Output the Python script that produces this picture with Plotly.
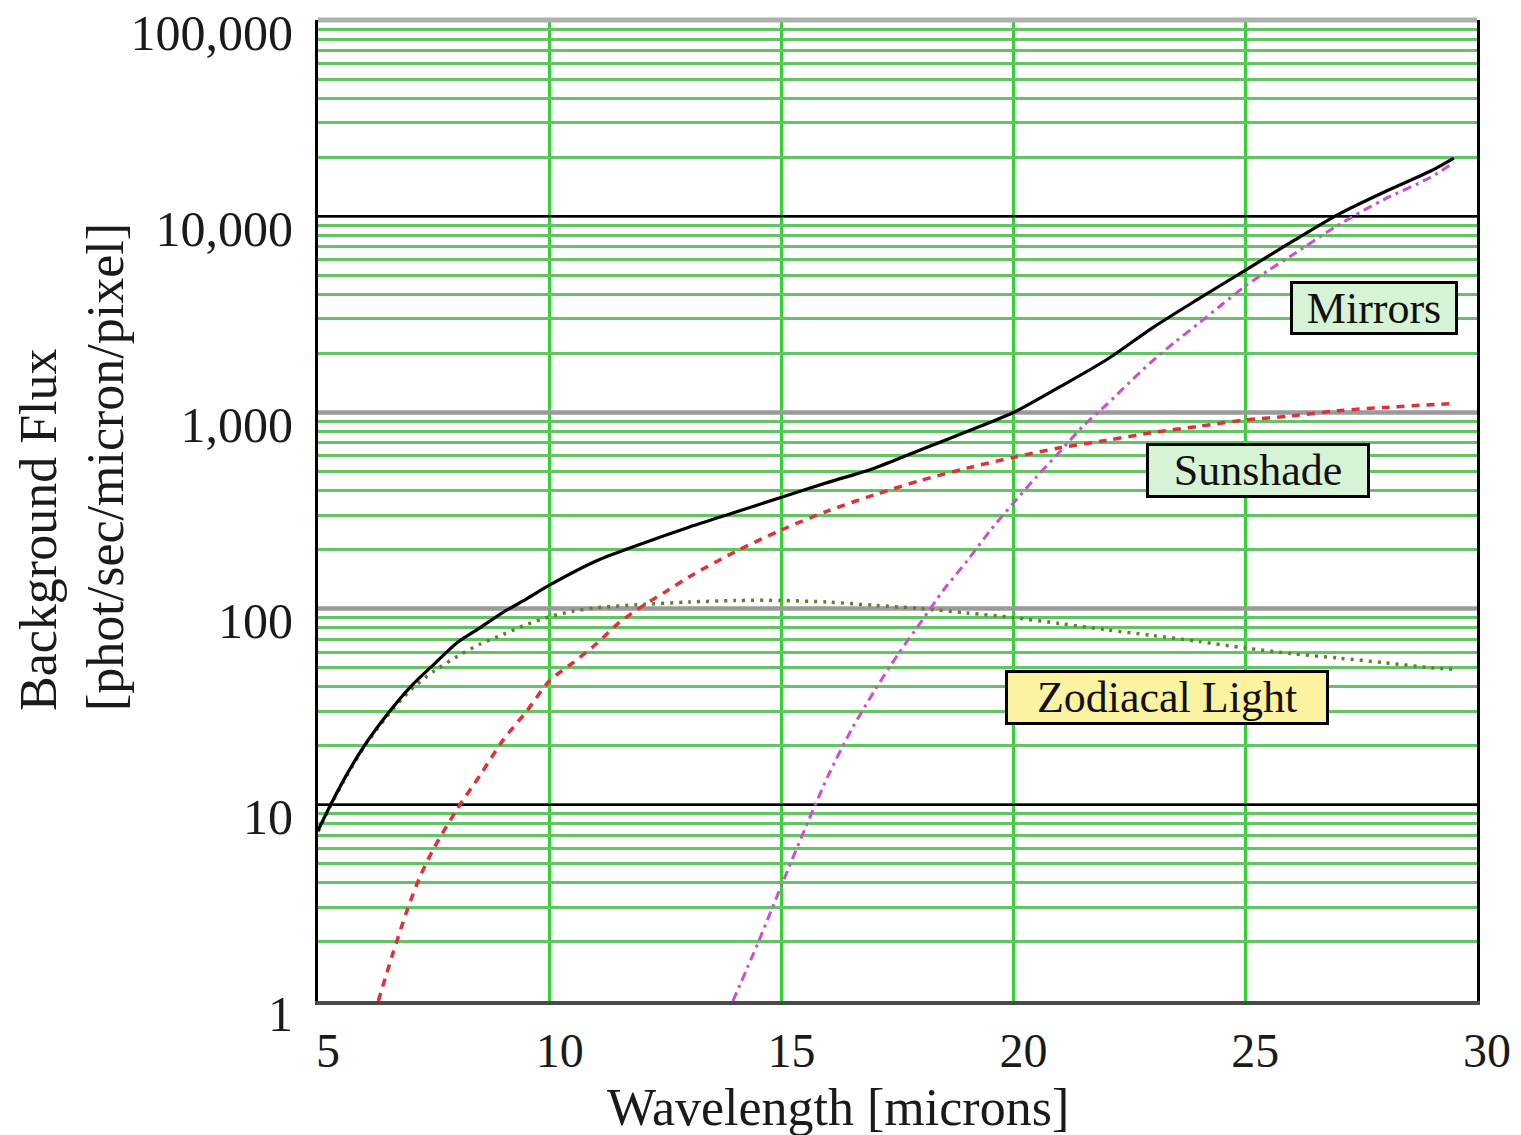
import plotly.graph_objects as go

# ---------------- data ----------------
total_x = [5, 5.3, 5.6, 6, 6.5, 7, 7.5, 8, 8.5, 9, 9.5, 10, 11, 12, 13, 14, 15, 16, 17, 18,
           19, 20, 21, 22, 23, 24, 25, 26, 27, 28, 29, 29.5]
total_y = [7.4, 10.3, 14, 20, 29, 40, 52, 67, 80, 96, 112, 132, 175, 215, 260, 310, 370, 440,
           520, 645, 800, 1000, 1350, 1850, 2700, 3800, 5300, 7400, 10200, 13300, 17000, 19800]

sunshade_x = [6.3, 6.6, 6.9, 7.2, 7.5, 8, 8.5, 9, 9.5, 10, 10.5, 11, 11.5, 12, 12.5, 13, 14, 15,
              16, 17, 18, 19, 20, 21, 22, 23, 24, 25, 26, 27, 28, 29, 29.5]
sunshade_y = [1.0, 1.7, 2.8, 4.3, 6.0, 9.5, 14.2, 21.5, 30, 43, 53, 66, 85, 103, 122, 145, 195,
              252, 315, 380, 450, 520, 590, 660, 720, 790, 850, 915, 960, 1020, 1060, 1095, 1110]

zodi_x = [5, 5.3, 5.6, 6, 6.5, 7, 7.5, 8, 8.5, 9, 9.5, 10, 10.5, 11, 12, 13, 14, 15, 16, 17, 18,
          19, 20, 21, 22, 23, 24, 25, 26, 27, 28, 29, 29.5]
zodi_y = [7.3, 10.2, 13.8, 19.8, 28.5, 38.5, 48, 57, 66, 74, 83, 91, 97, 101, 105, 108, 110, 110,
          108, 104, 100, 95, 90, 84, 78, 73, 68, 63, 59, 56, 53, 50, 49]

mirrors_x = [13.95, 14.5, 15, 15.5, 16, 16.5, 17, 17.5, 18, 18.5, 19, 19.5, 20, 20.5, 21, 21.5,
             22, 22.5, 23, 23.5, 24, 24.5, 25, 25.5, 26, 27, 28, 29, 29.5]
mirrors_y = [1.0, 2.0, 3.9, 7.5, 14, 24, 38, 58, 85, 125, 175, 250, 345, 470, 630, 850, 1090,
             1420, 1830, 2300, 2850, 3550, 4400, 5300, 6300, 9000, 12200, 15800, 18800]

x_ticks = [5, 10, 15, 20, 25, 30]
decades = [1, 10, 100, 1000, 10000, 100000]
decade_labels = ["1", "10", "100", "1,000", "10,000", "100,000"]
decade_line_colors = ["#555555", "#000000", "#9a9a9a", "#9a9a9a", "#000000", "#b0b0b0"]
decade_line_widths = [0, 2.5, 4.5, 4.5, 2.5, 5]

labels = ["Mirrors", "Sunshade", "Zodiacal Light"]

# minor grid values 1..9 x 10^k
y_grid_vals = [m * d for d in decades[:-1] for m in range(1, 10)] + [decades[-1]]
y_grid_text = [decade_labels[decades.index(v)] if v in decades else "" for v in y_grid_vals]

fig = go.Figure()

# decade reference lines (drawn above the green grid, below the curves)
for d, c, w in zip(decades, decade_line_colors, decade_line_widths):
    if w > 0 and d < 100000:
        fig.add_trace(go.Scatter(x=[x_ticks[0], x_ticks[-1]], y=[d, d], mode="lines",
                                 line=dict(color=c, width=w), hoverinfo="skip",
                                 showlegend=False))

fig.add_trace(go.Scatter(x=zodi_x, y=zodi_y, mode="lines", name="Zodiacal Light",
                         line=dict(color="#62802a", width=3.5, dash="3px,6px",
                                   shape="spline", smoothing=0.8)))
fig.add_trace(go.Scatter(x=sunshade_x, y=sunshade_y, mode="lines", name="Sunshade",
                         line=dict(color="#e0303a", width=3.5, dash="8px,7px",
                                   shape="spline", smoothing=0.8)))
fig.add_trace(go.Scatter(x=mirrors_x, y=mirrors_y, mode="lines", name="Mirrors",
                         line=dict(color="#d04cd0", width=3, dash="9px,5px,3px,5px",
                                   shape="spline", smoothing=0.8)))
fig.add_trace(go.Scatter(x=total_x, y=total_y, mode="lines", name="Total",
                         line=dict(color="#000000", width=3.2, shape="spline", smoothing=0.8)))

serif = "Liberation Serif, Times New Roman, serif"

fig.update_layout(
    width=1521, height=1135,
    margin=dict(l=318, r=44, t=20, b=134),
    paper_bgcolor="white", plot_bgcolor="white",
    showlegend=False,
    font=dict(family=serif, color="#1a1a1a"),
    xaxis=dict(range=[5, 30], tickvals=x_ticks, ticktext=[str(v) for v in x_ticks],
               showgrid=True, gridcolor="#2fd62f", gridwidth=2.5, automargin=False,
               zeroline=False, showline=True, linecolor="#4a4a4a", linewidth=4,
               ticks="outside", ticklen=4, tickcolor="rgba(0,0,0,0)",
               ticklabelshift=10,
               tickfont=dict(size=48, family=serif, color="#1a1a1a")),
    yaxis=dict(type="log", range=[0, 5.0003], tickvals=y_grid_vals, ticktext=y_grid_text,
               showgrid=True, gridcolor="#62c462", gridwidth=3, automargin=False,
               zeroline=False, showline=True, linecolor="#000000", linewidth=3,
               mirror=True,
               ticks="outside", ticklen=12, tickcolor="rgba(0,0,0,0)",
               ticklabelshift=12, ticklabeloverflow="allow",
               tickfont=dict(size=50, family=serif, color="#1a1a1a")),
    shapes=[dict(type="line", xref="paper", yref="paper", x0=0, x1=1, y0=1, y1=1,
                 line=dict(color=decade_line_colors[-1], width=decade_line_widths[-1]))],
)

box_font = dict(family=serif, size=44, color="#111111")
common = dict(xref="paper", yref="paper", showarrow=False, font=box_font, bordercolor="#000",
              borderwidth=3, borderpad=0, xanchor="center", yanchor="middle")
fig.add_annotation(x=0.911, y=0.706, text=labels[0], bgcolor="#d6f3d6",
                   width=162, height=48, **common)
fig.add_annotation(x=0.811, y=0.541, text=labels[1], bgcolor="#d6f3d6",
                   width=218, height=49, **common)
fig.add_annotation(x=0.7325, y=0.3094, text=labels[2], bgcolor="#fbf3a2",
                   width=318, height=49, **common)

# axis titles
fig.add_annotation(xref="paper", yref="paper", x=0.449, y=-0.109,
                   text="Wavelength [microns]", showarrow=False,
                   font=dict(family=serif, size=52, color="#1a1a1a"),
                   xanchor="center", yanchor="middle")
fig.add_annotation(xref="paper", yref="paper", x=-0.2123, y=0.5443,
                   text="Background Flux<br>[phot/sec/micron/pixel]", showarrow=False,
                   textangle=-90, align="left",
                   font=dict(family=serif, size=52, color="#1a1a1a"),
                   xanchor="center", yanchor="middle")

fig.write_html("out.html")
